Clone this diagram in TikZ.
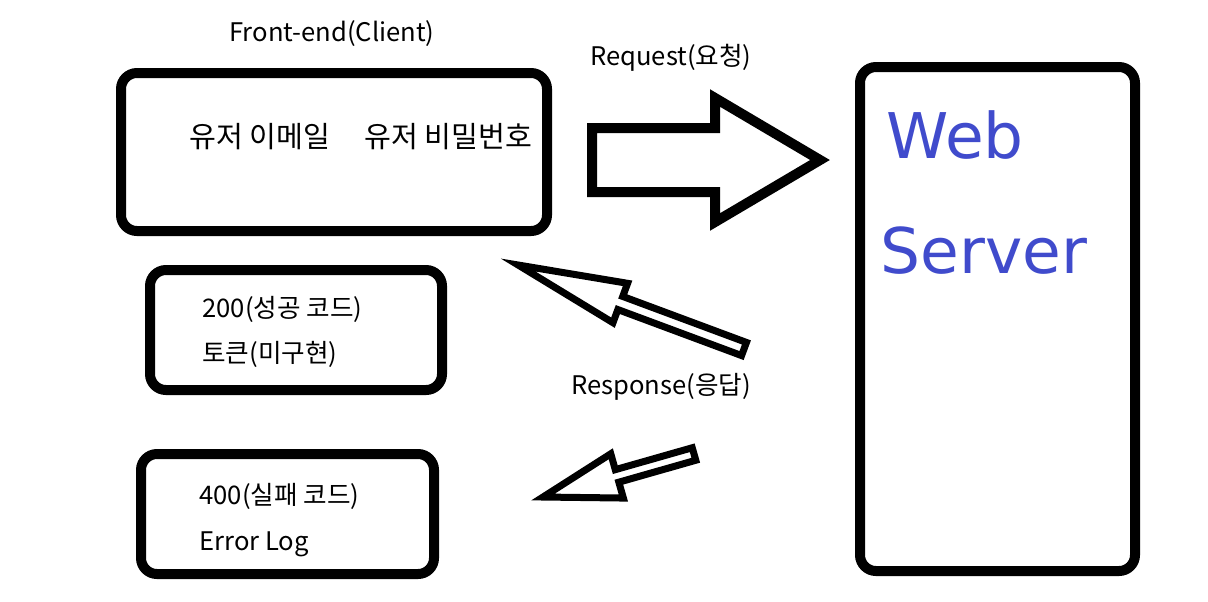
\documentclass[tikz,border=0pt]{standalone}
\usepackage{fontspec}
\setmainfont{Noto Sans CJK KR}
\newfontfamily\handfont{DejaVu Sans}
\usetikzlibrary{positioning}
\definecolor{penblue}{RGB}{64,75,204}

\begin{document}
\begin{tikzpicture}[x=0.5pt,y=-0.5pt,
    box/.style={draw,line width=5pt,rounded corners=8pt,inner sep=0pt},
    txt/.style={font=\fontsize{12.8}{15}\selectfont,inner sep=0pt},
    big/.style={font=\fontsize{14.6}{17}\selectfont,inner sep=0pt},
    hand/.style={text=penblue,font=\handfont\fontsize{31.5}{36}\selectfont,inner sep=0pt}]
  \useasboundingbox (0,0) rectangle (1208,601);

  % client side
  \node[box,minimum width=213pt,minimum height=79pt] (client) at (334,152) {};
  \node[txt] (fe) at (332,34) {Front-end(Client)};
  \node[big,anchor=west] (email) at (189,137) {유저 이메일};
  \node[big,anchor=west] (pw) at (364,137) {유저 비밀번호};

  \node[box,minimum width=146pt,minimum height=60pt] (ok) at (296,330) {};
  \node[txt,anchor=west] (code200) at (202,309) {200(성공 코드)};
  \node[txt,anchor=west] (token) at (202,354) {토큰(미구현)};

  \node[box,minimum width=146.5pt,minimum height=60pt] (fail) at (287.5,514) {};
  \node[txt,anchor=west] (code400) at (199,496) {400(실패 코드)};
  \node[txt,anchor=west] (errlog) at (199,544) {Error Log};

  % server
  \node[box,minimum width=137.5pt,minimum height=252pt] (server) at (997.5,319) {};
  \node[hand,anchor=base west] (web) at (886,158) {Web};
  \node[hand,anchor=base west] (srv) at (880,273) {Server};

  % block arrows: tail x/y, angle, length, head length, shaft, head, line
  \foreach \x/\y/\a/\L/\h/\s/\H/\w in {592/160/0/228/105/32/62/5,
      744/349/159.6/241/109/7/21/3.5, 694/454/195.9/157/77/6.5/23/3.5}
    \draw[line width=\w pt,shift={(\x,\y)},rotate=\a]
      (0,-\s) -- ({\L-\h},-\s) -- ({\L-\h},-\H) -- (\L,0)
      -- ({\L-\h},\H) -- ({\L-\h},\s) -- (0,\s) -- cycle;

  \node[txt] (req) at (671,58) {Request(요청)};
  \node[txt] (resp) at (661,387) {Response(응답)};
\end{tikzpicture}
\end{document}
